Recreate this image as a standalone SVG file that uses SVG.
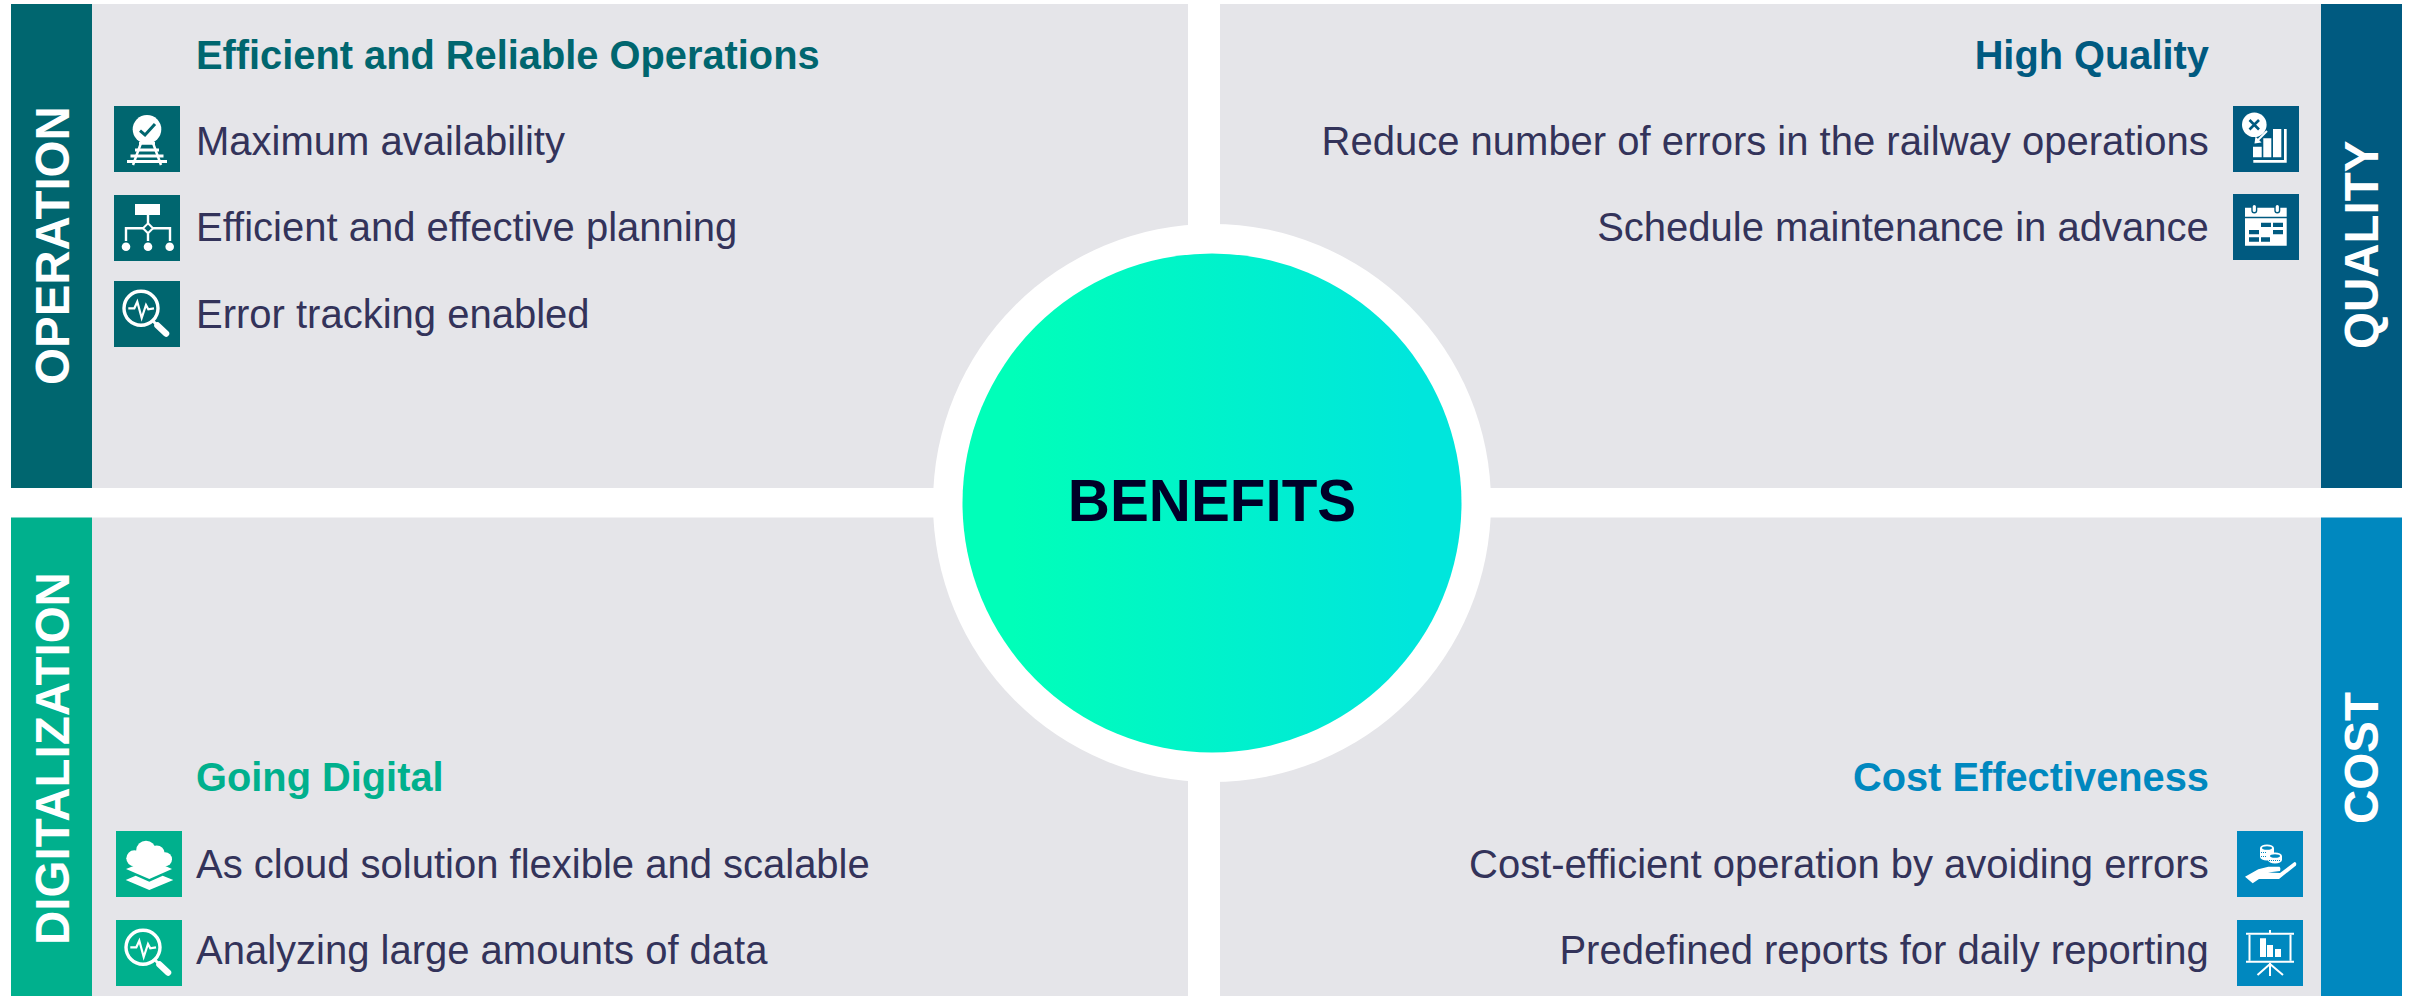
<svg xmlns="http://www.w3.org/2000/svg" width="2412" height="996" viewBox="0 0 2412 996">
<style>
text{font-family:"Liberation Sans",Arial,sans-serif}
.panel{fill:#e5e5e9}
.body{font-size:40px;fill:#33335a}
.head{font-size:39.800px;font-weight:700}
.bar{font-size:47.500px;font-weight:700;fill:#fff}
.e{text-anchor:end}
.op{fill:#00666f}.qu{fill:#005a80}.di{fill:#00b08d}.co{fill:#0088bf}
.w{fill:#fff}
.l{fill:none;stroke:#fff}
</style>
<defs>
<linearGradient id="grad" x1="0" y1="0" x2="1" y2="0"><stop offset="0.1" stop-color="#00ffb9"/><stop offset="0.9" stop-color="#00e6dc"/></linearGradient>
<g id="search">
<circle class="l" cx="27" cy="27.300" r="17" stroke-width="3.400"/>
<path class="l" d="M39 40L43 44" stroke-width="3"/>
<path class="l" d="M43.500 44.500L52 52.500" stroke-width="6.500" stroke-linecap="round"/>
<polyline class="l" points="14.300,27.300 20.300,27.300 23.300,20.700 27.700,37 32,24 34.300,28.300 40,27.300" stroke-width="2.200"/>
</g>
</defs>
<rect width="2412" height="996" fill="#fff"/>

<g id="quadrant-operation">
<rect class="panel" x="92" y="4" width="1096" height="484"/>
<rect class="op" x="11" y="4" width="81" height="484"/>
<text class="bar" transform="translate(69 385) rotate(-90)">OPERATION</text>
<text class="head op" x="196" y="68.500">Efficient and Reliable Operations</text>
<g id="icon-availability" transform="translate(114 106)">
<rect class="op" width="66" height="66"/>
<circle class="w" cx="33" cy="23.300" r="14.300"/>
<polyline points="26,24.700 31,29 41,18" fill="none" stroke="#00666f" stroke-width="3"/>
<path class="w" d="M25 36h16v2.800h-16zM21 42.500h24v3h-24zM16.500 48.500h33v3h-33zM13 54h40v3h-40z"/>
<path class="l" d="M27 37L19 59M39 37L47 59" stroke-width="2.500"/>
</g>
<text class="body" x="196" y="154.700">Maximum availability</text>
<g id="icon-planning" transform="translate(114 195)">
<rect class="op" width="66" height="66"/>
<rect class="w" x="21" y="9" width="25" height="11"/>
<path class="l" d="M34 20V28M34 38.500V46M12 46V33.300H29M39 33.300H56V46" stroke-width="2.400"/>
<path class="l" d="M34 28.300L39 33.300L34 38.300L29 33.300Z" stroke-width="2"/>
<circle class="w" cx="12" cy="51.700" r="4.300"/><circle class="w" cx="34" cy="51.700" r="4.300"/><circle class="w" cx="55.700" cy="51.700" r="4.300"/>
</g>
<text class="body" x="196" y="241.200">Efficient and effective planning</text>
<g id="icon-tracking" transform="translate(114 281)">
<rect class="op" width="66" height="66"/>
<use href="#search"/>
</g>
<text class="body" x="196" y="328">Error tracking enabled</text>
</g>

<g id="quadrant-quality">
<rect class="panel" x="1220" y="4" width="1101" height="484"/>
<rect class="qu" x="2321" y="4" width="81" height="484"/>
<text class="bar" transform="translate(2378 349) rotate(-90)">QUALITY</text>
<text class="head qu e" x="2209" y="68.500">High Quality</text>
<g id="icon-errors" transform="translate(2233 106)">
<rect class="qu" width="66" height="66"/>
<circle class="w" cx="21.300" cy="18.700" r="12.300"/>
<path d="M16.500 14L26 23.500M26 14L16.500 23.500" stroke="#005a80" stroke-width="2.600" fill="none"/>
<path class="w" d="M20 40.700h8.700v10.600h-8.700zM30.300 32.300h8v19h-8zM40 23h8.300v28.300h-8.300zM51 23h2.700v33.700h-33.400v-2.700h30.700z"/>
<path class="l" d="M34 25L24 35" stroke-width="2"/>
<path class="w" d="M21.500 37.500L22.500 30.500L28.500 36.500Z"/>
</g>
<text class="body e" x="2208.700" y="154.700">Reduce number of errors in the railway operations</text>
<g id="icon-schedule" transform="translate(2233 194)">
<rect class="qu" width="66" height="66"/>
<path class="w" d="M12 13.700h41.700v9h-41.700zM12 24.300h41.700v27.400h-41.700z"/>
<path class="qu" d="M28 28.700h10v4.300h-10zM40 28.700h10v4.300h-10zM16 36h10v4.300h-10zM40 36h10v4.300h-10zM16 43.300h10v4.400h-10zM28 43.300h9v4.400h-9z"/>
<rect x="19" y="10.300" width="4.600" height="8.400" rx="2.300" fill="#fff" stroke="#005a80" stroke-width="1.400"/>
<rect x="42" y="10.300" width="4.600" height="8.400" rx="2.300" fill="#fff" stroke="#005a80" stroke-width="1.400"/>
</g>
<text class="body e" x="2208.700" y="241.200">Schedule maintenance in advance</text>
</g>

<g id="quadrant-digitalization">
<rect class="panel" x="92" y="517.500" width="1096" height="478.500"/>
<rect class="di" x="11" y="517.500" width="81" height="478.500"/>
<text class="bar" transform="translate(69 945) rotate(-90)">DIGITALIZATION</text>
<text class="head di" x="196" y="791">Going Digital</text>
<g id="icon-cloud" transform="translate(116 831)">
<rect class="di" width="66" height="66"/>
<circle class="w" cx="30" cy="19.500" r="9.800"/><circle class="w" cx="40.700" cy="22.500" r="8"/><circle class="w" cx="49" cy="28.300" r="7"/><circle class="w" cx="18.300" cy="27.300" r="8"/>
<rect class="w" x="18" y="22" width="31" height="13"/>
<path class="w" d="M10 38L20 34H47L56 38L33.300 48Z"/>
<path class="w" d="M9.700 49L19.700 44.700L33.300 50.700L46.700 44.700L57.300 49L33.300 59Z"/>
</g>
<text class="body" x="196" y="877.500">As cloud solution flexible and scalable</text>
<g id="icon-analyzing" transform="translate(116 920)">
<rect class="di" width="66" height="66"/>
<use href="#search"/>
</g>
<text class="body" x="196" y="963.500">Analyzing large amounts of data</text>
</g>

<g id="quadrant-cost">
<rect class="panel" x="1220" y="517.500" width="1101" height="478.500"/>
<rect class="co" x="2321" y="517.500" width="81" height="478.500"/>
<text class="bar" transform="translate(2378 824) rotate(-90)">COST</text>
<text class="head co e" x="2209" y="791">Cost Effectiveness</text>
<g id="icon-cost" transform="translate(2237 831)">
<rect class="co" width="66" height="66"/>
<path class="w" d="M23 17a7 3.500 0 0 1 14 0V26a7 3.500 0 0 1-14 0z"/>
<path class="w" d="M31 25a7 3.500 0 0 1 14 0V29a7 3.500 0 0 1-14 0z"/>
<ellipse class="co" cx="30" cy="17" rx="5" ry="1.800"/>
<ellipse class="co" cx="38" cy="25" rx="5" ry="1.800"/>
<path d="M24 21.500h6M24 25.500h5M32 29.500h12" stroke="#0088bf" stroke-width="1" stroke-dasharray="1 1" fill="none"/>
<path class="w" d="M8 45.700L21.300 38.300L31.300 35.700H42.500Q44 37 43 40L31 41.500L43 42L57.500 31Q60 31 59 34.500L42 48H22L15.700 52.300Z"/>
</g>
<text class="body e" x="2208.700" y="877.500">Cost-efficient operation by avoiding errors</text>
<g id="icon-reports" transform="translate(2237 920)">
<rect class="co" width="66" height="66"/>
<path class="w" d="M9 12.700h48v2h-48zM32 10h2v3h-2zM9 40.700h48v2h-48z"/>
<path class="l" d="M12.500 14.700V40.700M53.500 14.700V40.700" stroke-width="2"/>
<path class="w" d="M23 18.300h6v18.700h-6zM30 25h6v12h-6zM38 29h6v8h-6z"/>
<path class="l" d="M33 42.700V56M33 44L20.500 55M33 44L46 55" stroke-width="2"/>
</g>
<text class="body e" x="2208.700" y="963.500">Predefined reports for daily reporting</text>
</g>

<g id="benefits">
<circle cx="1212" cy="503" r="279" fill="#fff"/>
<circle cx="1212" cy="503" r="249.500" fill="url(#grad)"/>
<text x="1212" y="520.500" text-anchor="middle" font-size="58.300" font-weight="700" fill="#000028">BENEFITS</text>
</g>

<g id="connectors"/>
</svg>
